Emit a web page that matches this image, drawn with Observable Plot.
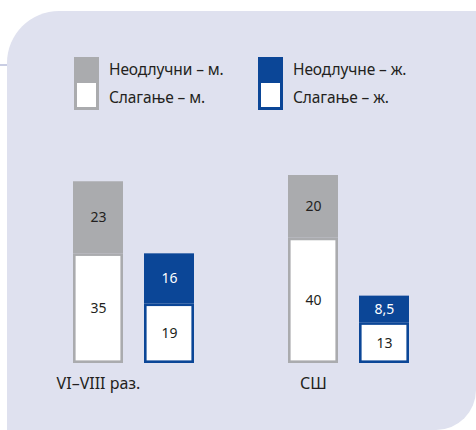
<!DOCTYPE html>
<html>
<head>
<meta charset="utf-8">
<script src="https://cdn.jsdelivr.net/npm/d3@7"></script>
<script src="https://cdn.jsdelivr.net/npm/@observablehq/plot@0.6"></script>
<style>
  html, body { margin: 0; padding: 0; background: #ffffff; }
  body { width: 476px; height: 430px; position: relative; overflow: hidden; font-family: "Noto Sans", sans-serif; }
  #rule { position: absolute; left: 0; top: 64px; width: 10px; height: 1.5px; background: #c9cde3; }
  #panel { position: absolute; left: 7px; top: 11px; right: 0; bottom: 0; background: #dfe1ef; border-radius: 52px 0 40px 0; }
  #legend { position: absolute; left: 0; top: 0; width: 476px; height: 150px; }
  .sw { position: absolute; width: 25px; height: 53px; box-sizing: border-box; }
  .sw .top { height: 26px; }
  .sw .bot { height: 27px; box-sizing: border-box; background: #fff; border-style: solid; border-width: 0 3px 3px 3px; }
  .lt { position: absolute; font-size: 15.5px; color: #231f20; white-space: nowrap; line-height: 1; letter-spacing: -0.1px; }
  #chart { position: absolute; left: 0; top: 150px; }
</style>
</head>
<body>
<div id="rule"></div>
<div id="panel"></div>
<div id="legend"></div>
<div id="chart"></div>
<script>
const groups = ["VI–VIII раз.", "СШ"];
const sexes = ["м.", "ж."];
const agreeLabel = "Слагање";
const undecidedLabels = ["Неодлучни", "Неодлучне"];
// values in order: [group1 male, group1 female, group2 male, group2 female]
const agree = [35, 19, 40, 13];
const undecided = [23, 16, 20, 8.5];
const sexColors = ["#aaabae", "#0b4697"];
const labelInk = ["#231f20", "#ffffff"];

const fmt = v => String(v).replace(".", ",");

// Legend (HTML, above the SVG)
const legend = document.getElementById("legend");
const legendX = [74, 258];
sexes.forEach((s, i) => {
  const sw = document.createElement("div");
  sw.className = "sw";
  sw.style.left = legendX[i] + "px";
  sw.style.top = "57px";
  sw.innerHTML = `<div class="top" style="background:${sexColors[i]}"></div><div class="bot" style="border-color:${sexColors[i]}"></div>`;
  legend.appendChild(sw);
  const t1 = document.createElement("div");
  t1.className = "lt";
  t1.style.left = (legendX[i] + 35) + "px";
  t1.style.top = "62px";
  t1.textContent = `${undecidedLabels[i]} – ${s}`;
  legend.appendChild(t1);
  const t2 = document.createElement("div");
  t2.className = "lt";
  t2.style.left = (legendX[i] + 35) + "px";
  t2.style.top = "90px";
  t2.textContent = `${agreeLabel} – ${s}`;
  legend.appendChild(t2);
});

// Rows
const agreeRows = [], undRows = [];
agree.forEach((a, i) => {
  const g = groups[Math.floor(i / 2)], si = i % 2, s = sexes[si];
  const u = undecided[i];
  agreeRows.push({group: g, sex: s, y1: 0, y2: a, mid: a / 2, text: fmt(a), color: sexColors[si], ink: labelInk[0]});
  undRows.push({group: g, sex: s, y1: a, y2: a + u, mid: a + u / 2, text: fmt(u), color: sexColors[si], ink: labelInk[si]});
});
const groupRows = groups.map(g => ({group: g, sex: sexes[0], label: g}));

const plot = Plot.plot({
  width: 476,
  height: 280,
  marginLeft: 71,
  marginRight: 67,
  marginTop: 25,
  marginBottom: 67,
  style: {background: "transparent", overflow: "visible"},
  fx: {domain: groups, paddingInner: 0.433, paddingOuter: 0, axis: null},
  x: {domain: sexes, paddingInner: 0.3, paddingOuter: 0, axis: null},
  y: {domain: [0, 60], axis: null},
  color: {type: "identity"},
  marks: [
    Plot.barY(undRows, {fx: "group", x: "sex", y1: "y1", y2: "y2", fill: "color"}),
    Plot.barY(agreeRows, {fx: "group", x: "sex", y1: "y1", y2: "y2", fill: "white", stroke: "color", strokeWidth: 2.6, inset: 1.3}),
    Plot.text(agreeRows, {fx: "group", x: "sex", y: "mid", text: "text", fill: "ink", fontSize: 14, fontFamily: "Noto Sans"}),
    Plot.text(undRows, {fx: "group", x: "sex", y: "mid", text: "text", fill: "ink", fontSize: 14, fontFamily: "Noto Sans"}),
    Plot.text(groupRows, {fx: "group", x: "sex", y: () => 0, text: "label", dy: 20, fontSize: 16, fill: "#231f20", fontFamily: "Noto Sans", letterSpacing: -0.3})
  ]
});
document.getElementById("chart").appendChild(plot);
</script>
</body>
</html>
